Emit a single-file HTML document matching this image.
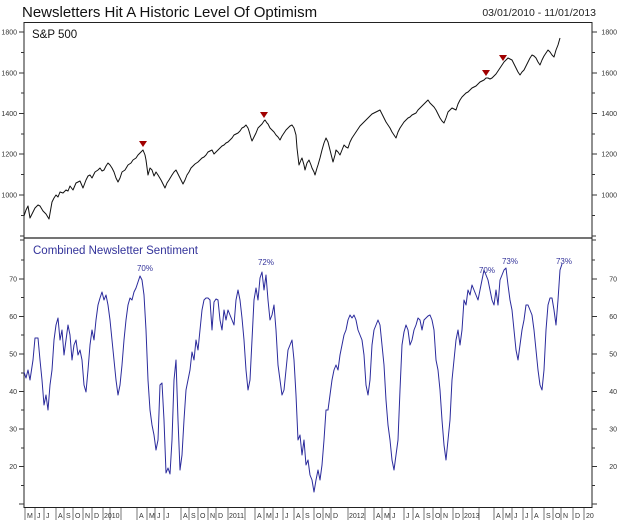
<!DOCTYPE html>
<html><head><meta charset="utf-8"><style>
html,body{margin:0;padding:0;background:#fff;}
svg{display:block;}
text{font-family:"Liberation Sans",Arial,sans-serif;}
</style></head><body>
<svg width="620" height="525" viewBox="0 0 620 525" xmlns="http://www.w3.org/2000/svg">
<rect width="620" height="525" fill="#fff"/>
<text x="22" y="17" font-size="15" fill="#111">Newsletters Hit A Historic Level Of Optimism</text>
<text x="596" y="16" font-size="10.5" fill="#222" text-anchor="end">03/01/2010 - 11/01/2013</text>
<!-- frame -->
<rect x="24" y="22.5" width="568" height="485" fill="none" stroke="#222" stroke-width="1"/>
<line x1="24" y1="238" x2="592" y2="238" stroke="#222" stroke-width="1.2"/>
<!-- top panel ticks -->
<g stroke="#333" stroke-width="1">
<line x1="19" y1="32" x2="24" y2="32"/><line x1="592" y1="32" x2="597" y2="32"/>
<line x1="21" y1="52.5" x2="24" y2="52.5"/><line x1="592" y1="52.5" x2="595" y2="52.5"/>
<line x1="19" y1="73" x2="24" y2="73"/><line x1="592" y1="73" x2="597" y2="73"/>
<line x1="21" y1="93" x2="24" y2="93"/><line x1="592" y1="93" x2="595" y2="93"/>
<line x1="19" y1="113.5" x2="24" y2="113.5"/><line x1="592" y1="113.5" x2="597" y2="113.5"/>
<line x1="21" y1="134" x2="24" y2="134"/><line x1="592" y1="134" x2="595" y2="134"/>
<line x1="19" y1="154" x2="24" y2="154"/><line x1="592" y1="154" x2="597" y2="154"/>
<line x1="21" y1="174.5" x2="24" y2="174.5"/><line x1="592" y1="174.5" x2="595" y2="174.5"/>
<line x1="19" y1="195" x2="24" y2="195"/><line x1="592" y1="195" x2="597" y2="195"/>
<line x1="21" y1="215.5" x2="24" y2="215.5"/><line x1="592" y1="215.5" x2="595" y2="215.5"/>
<line x1="20" y1="236" x2="24" y2="236"/><line x1="592" y1="236" x2="596" y2="236"/>
<line x1="20" y1="240" x2="24" y2="240"/><line x1="592" y1="240" x2="596" y2="240"/>
</g>
<g font-size="7" fill="#333" text-anchor="end">
<text x="17" y="34.5">1800</text><text x="17" y="75.5">1600</text><text x="17" y="116">1400</text><text x="17" y="156.5">1200</text><text x="17" y="197.5">1000</text>
<text x="617" y="34.5">1800</text><text x="617" y="75.5">1600</text><text x="617" y="116">1400</text><text x="617" y="156.5">1200</text><text x="617" y="197.5">1000</text>
</g>
<!-- bottom panel ticks -->
<g stroke="#333" stroke-width="1">
<line x1="21" y1="260" x2="24" y2="260"/><line x1="592" y1="260" x2="595" y2="260"/>
<line x1="19" y1="279" x2="24" y2="279"/><line x1="592" y1="279" x2="597" y2="279"/>
<line x1="21" y1="297.5" x2="24" y2="297.5"/><line x1="592" y1="297.5" x2="595" y2="297.5"/>
<line x1="19" y1="316.5" x2="24" y2="316.5"/><line x1="592" y1="316.5" x2="597" y2="316.5"/>
<line x1="21" y1="335" x2="24" y2="335"/><line x1="592" y1="335" x2="595" y2="335"/>
<line x1="19" y1="354" x2="24" y2="354"/><line x1="592" y1="354" x2="597" y2="354"/>
<line x1="21" y1="373" x2="24" y2="373"/><line x1="592" y1="373" x2="595" y2="373"/>
<line x1="19" y1="391.5" x2="24" y2="391.5"/><line x1="592" y1="391.5" x2="597" y2="391.5"/>
<line x1="21" y1="410" x2="24" y2="410"/><line x1="592" y1="410" x2="595" y2="410"/>
<line x1="19" y1="429" x2="24" y2="429"/><line x1="592" y1="429" x2="597" y2="429"/>
<line x1="21" y1="448" x2="24" y2="448"/><line x1="592" y1="448" x2="595" y2="448"/>
<line x1="19" y1="466.5" x2="24" y2="466.5"/><line x1="592" y1="466.5" x2="597" y2="466.5"/>
<line x1="21" y1="485.5" x2="24" y2="485.5"/><line x1="592" y1="485.5" x2="595" y2="485.5"/>
<line x1="19" y1="504" x2="24" y2="504"/><line x1="592" y1="504" x2="597" y2="504"/>
</g>
<g font-size="7" fill="#333" text-anchor="end">
<text x="17" y="281.5">70</text><text x="17" y="319">60</text><text x="17" y="356.5">50</text><text x="17" y="394">40</text><text x="17" y="431.5">30</text><text x="17" y="469">20</text>
<text x="617" y="281.5">70</text><text x="617" y="319">60</text><text x="617" y="356.5">50</text><text x="617" y="394">40</text><text x="617" y="431.5">30</text><text x="617" y="469">20</text>
</g>
<!-- x axis month labels -->
<g stroke="#555" stroke-width="0.8">
<line x1="25" y1="508" x2="25" y2="520"/><line x1="35" y1="508" x2="35" y2="520"/><line x1="44" y1="508" x2="44" y2="520"/><line x1="56" y1="508" x2="56" y2="520"/><line x1="64" y1="508" x2="64" y2="520"/><line x1="73" y1="508" x2="73" y2="520"/><line x1="83" y1="508" x2="83" y2="520"/><line x1="92" y1="508" x2="92" y2="520"/><line x1="103" y1="508" x2="103" y2="520"/><line x1="110" y1="508" x2="110" y2="520"/><line x1="121" y1="508" x2="121" y2="520"/>
<line x1="137" y1="508" x2="137" y2="520"/><line x1="147" y1="508" x2="147" y2="520"/><line x1="155" y1="508" x2="155" y2="520"/><line x1="164" y1="508" x2="164" y2="520"/><line x1="181" y1="508" x2="181" y2="520"/><line x1="189" y1="508" x2="189" y2="520"/><line x1="198" y1="508" x2="198" y2="520"/><line x1="208" y1="508" x2="208" y2="520"/><line x1="216" y1="508" x2="216" y2="520"/><line x1="228" y1="508" x2="228" y2="520"/><line x1="245" y1="508" x2="245" y2="520"/>
<line x1="255" y1="508" x2="255" y2="520"/><line x1="264" y1="508" x2="264" y2="520"/><line x1="273" y1="508" x2="273" y2="520"/><line x1="283" y1="508" x2="283" y2="520"/><line x1="294" y1="508" x2="294" y2="520"/><line x1="303" y1="508" x2="303" y2="520"/><line x1="314" y1="508" x2="314" y2="520"/><line x1="323" y1="508" x2="323" y2="520"/><line x1="331" y1="508" x2="331" y2="520"/><line x1="348" y1="508" x2="348" y2="520"/><line x1="365" y1="508" x2="365" y2="520"/>
<line x1="374" y1="508" x2="374" y2="520"/><line x1="382" y1="508" x2="382" y2="520"/><line x1="390" y1="508" x2="390" y2="520"/><line x1="404" y1="508" x2="404" y2="520"/><line x1="413" y1="508" x2="413" y2="520"/><line x1="424" y1="508" x2="424" y2="520"/><line x1="433" y1="508" x2="433" y2="520"/><line x1="441" y1="508" x2="441" y2="520"/><line x1="453" y1="508" x2="453" y2="520"/><line x1="463" y1="508" x2="463" y2="520"/><line x1="479" y1="508" x2="479" y2="520"/>
<line x1="494" y1="508" x2="494" y2="520"/><line x1="503" y1="508" x2="503" y2="520"/><line x1="512" y1="508" x2="512" y2="520"/><line x1="523" y1="508" x2="523" y2="520"/><line x1="532" y1="508" x2="532" y2="520"/><line x1="544" y1="508" x2="544" y2="520"/><line x1="553" y1="508" x2="553" y2="520"/><line x1="561" y1="508" x2="561" y2="520"/><line x1="573" y1="508" x2="573" y2="520"/><line x1="584" y1="508" x2="584" y2="520"/>
</g>
<g font-size="7" fill="#333">
<text x="27" y="518">M</text><text x="37" y="518">J</text><text x="46" y="518">J</text><text x="58" y="518">A</text><text x="66" y="518">S</text><text x="75" y="518">O</text><text x="85" y="518">N</text><text x="94" y="518">D</text><text x="104" y="518">2010</text>
<text x="139" y="518">A</text><text x="149" y="518">M</text><text x="157" y="518">J</text><text x="166" y="518">J</text><text x="183" y="518">A</text><text x="191" y="518">S</text><text x="200" y="518">O</text><text x="210" y="518">N</text><text x="218" y="518">D</text><text x="229" y="518">2011</text>
<text x="257" y="518">A</text><text x="266" y="518">M</text><text x="275" y="518">J</text><text x="285" y="518">J</text><text x="296" y="518">A</text><text x="305" y="518">S</text><text x="316" y="518">O</text><text x="325" y="518">N</text><text x="333" y="518">D</text><text x="349" y="518">2012</text>
<text x="376" y="518">A</text><text x="384" y="518">M</text><text x="392" y="518">J</text><text x="406" y="518">J</text><text x="415" y="518">A</text><text x="426" y="518">S</text><text x="435" y="518">O</text><text x="443" y="518">N</text><text x="455" y="518">D</text><text x="464" y="518">2013</text>
<text x="496" y="518">A</text><text x="505" y="518">M</text><text x="514" y="518">J</text><text x="525" y="518">J</text><text x="534" y="518">A</text><text x="546" y="518">S</text><text x="555" y="518">O</text><text x="563" y="518">N</text><text x="575" y="518">D</text><text x="586" y="518">20</text>
</g>
<!-- panel titles -->
<text x="32" y="38" font-size="11.5" fill="#111">S&amp;P 500</text>
<text x="33" y="254" font-size="11.5" fill="#33339a">Combined Newsletter Sentiment</text>
<!-- S&P series -->
<polyline fill="none" stroke="#111" stroke-width="1" stroke-linejoin="round" points="24,216 26,210 28,206 30,218 32,214 35,208 38,205 40,206 43,211 46,214 49,219 52,202 54,198 56,195 58,197 60,192 63,193 66,190 68,191 70,186 73,190 76,183 78,182 80,181 83,188 86,180 88,176 90,175 92,178 95,172 98,170 100,168 102,171 104,170 106,166 108,163 110,165 112,168 114,172 116,178 118,182 120,178 122,172 125,170 128,165 131,163 133,160 136,158 138,155 141,152 143,150 145,155 146,160 148,175 150,168 152,170 154,176 156,172 158,175 161,180 163,184 165,188 167,183 169,180 172,175 174,172 176,170 178,174 180,178 183,184 185,180 187,175 189,172 191,168 193,166 195,164 198,162 200,160 202,158 204,157 206,155 208,152 210,151 212,150 214,154 216,152 218,150 220,148 222,146 224,145 226,143 228,142 230,140 232,138 234,135 236,134 238,133 240,131 242,128 244,127 246,125 248,128 249,131 251,138 252,141 254,137 256,133 258,128 260,126 262,124 264,121 265,120 267,123 268,124 270,128 272,130 274,132 276,135 278,137 280,140 282,136 284,133 286,130 288,128 290,126 292,125 294,128 296,135 297,148 299,165 301,160 302,158 304,165 305,170 307,163 309,160 311,165 312,168 314,172 315,175 317,168 318,165 320,158 322,150 324,143 326,138 328,142 330,150 332,158 333,162 335,155 336,150 338,152 340,155 342,150 344,145 346,147 348,148 350,142 352,138 354,135 356,132 358,129 360,126 362,124 364,122 366,120 368,118 370,116 372,114 374,113 376,112 378,111 380,110 382,114 384,118 386,122 388,125 390,128 392,132 394,135 396,138 398,132 400,128 402,125 404,122 406,120 408,118 410,117 412,115 414,114 416,113 418,110 420,108 422,106 424,104 426,102 428,100 430,103 432,105 434,107 436,110 438,114 440,118 442,121 444,123 446,118 448,112 450,110 452,108 454,109 456,110 458,104 460,100 462,97 464,95 466,93 468,92 470,90 472,88 474,87 476,86 478,84 480,82 482,81 484,80 486,78 488,78 490,79 492,78 494,76 496,74 498,71 500,68 502,65 504,62 506,60 508,58 510,59 512,60 514,64 516,68 518,72 520,75 522,72 524,70 526,66 528,62 530,58 532,55 534,56 536,58 538,62 540,65 542,60 544,56 546,53 548,50 550,52 552,55 554,57 556,50 558,45 560,38"/>
<!-- triangles -->
<g fill="#a00000">
<polygon points="139,141 147,141 143,147"/>
<polygon points="260,112 268,112 264,118"/>
<polygon points="482,70 490,70 486,76"/>
<polygon points="499,55 507,55 503,61"/>
</g>
<!-- Sentiment series -->
<polyline fill="none" stroke="#2b2b9c" stroke-width="1" stroke-linejoin="round" points="24,372 26,378 28,370 30,380 33,360 35,338 38,338 40,360 42,380 44,405 46,395 48,410 50,385 52,370 54,340 56,325 58,318 60,340 62,330 64,355 66,340 68,325 70,335 72,360 74,345 76,340 78,355 80,350 82,360 84,385 86,392 88,370 90,345 92,330 94,340 96,320 98,305 100,298 102,292 104,300 106,295 108,305 110,320 112,340 114,360 116,380 118,395 120,385 122,365 124,340 126,320 128,305 130,298 132,300 134,292 136,288 138,282 140,276 142,280 144,295 146,330 148,380 150,410 152,425 154,435 156,450 158,440 160,385 162,383 164,420 166,473 168,468 170,474 172,440 174,380 176,360 178,420 180,470 182,455 184,420 186,390 188,380 190,370 192,352 194,360 196,340 198,350 200,330 202,310 204,300 206,298 208,298 210,300 212,330 214,302 216,299 218,300 220,320 222,330 224,310 226,320 228,310 230,315 232,320 234,325 236,300 238,290 240,300 242,318 244,340 246,370 248,390 250,380 252,340 254,300 256,288 258,300 260,278 262,272 264,290 266,275 268,300 270,320 272,315 274,305 276,330 278,365 280,380 282,395 284,390 286,370 288,350 290,345 292,340 294,360 296,395 298,440 300,435 302,455 304,440 306,465 308,460 310,475 312,480 314,492 316,480 318,470 320,480 322,465 324,440 326,410 328,410 330,395 332,380 334,370 336,365 338,370 340,355 342,345 344,335 346,330 348,320 350,315 352,318 354,315 356,320 358,330 360,335 362,340 364,355 366,385 368,395 370,380 372,345 374,330 376,325 378,320 380,325 382,345 384,365 386,400 388,425 390,440 392,460 394,470 396,455 398,440 400,390 402,345 404,332 406,325 408,330 410,345 412,340 414,330 416,325 418,318 420,320 422,330 424,320 426,318 428,316 430,315 432,320 434,330 436,360 438,370 440,390 442,420 444,445 446,460 448,440 450,420 452,380 454,360 456,340 458,330 460,345 462,330 464,300 466,305 468,290 470,295 472,285 474,290 476,295 478,300 480,290 482,280 484,270 486,275 488,280 490,290 492,300 494,305 496,290 498,305 500,280 502,275 504,270 506,268 508,285 510,300 512,310 514,330 516,350 518,360 520,345 522,330 524,320 526,305 528,305 530,310 532,315 534,330 536,350 538,370 540,385 542,390 544,370 546,330 548,305 550,298 552,298 554,310 556,325 558,300 560,270 562,264"/>
<g font-size="8" fill="#33339a" text-anchor="middle">
<text x="145" y="271">70%</text>
<text x="266" y="265">72%</text>
<text x="487" y="273">70%</text>
<text x="510" y="264">73%</text>
<text x="564" y="264">73%</text>
</g>
</svg>
</body></html>
